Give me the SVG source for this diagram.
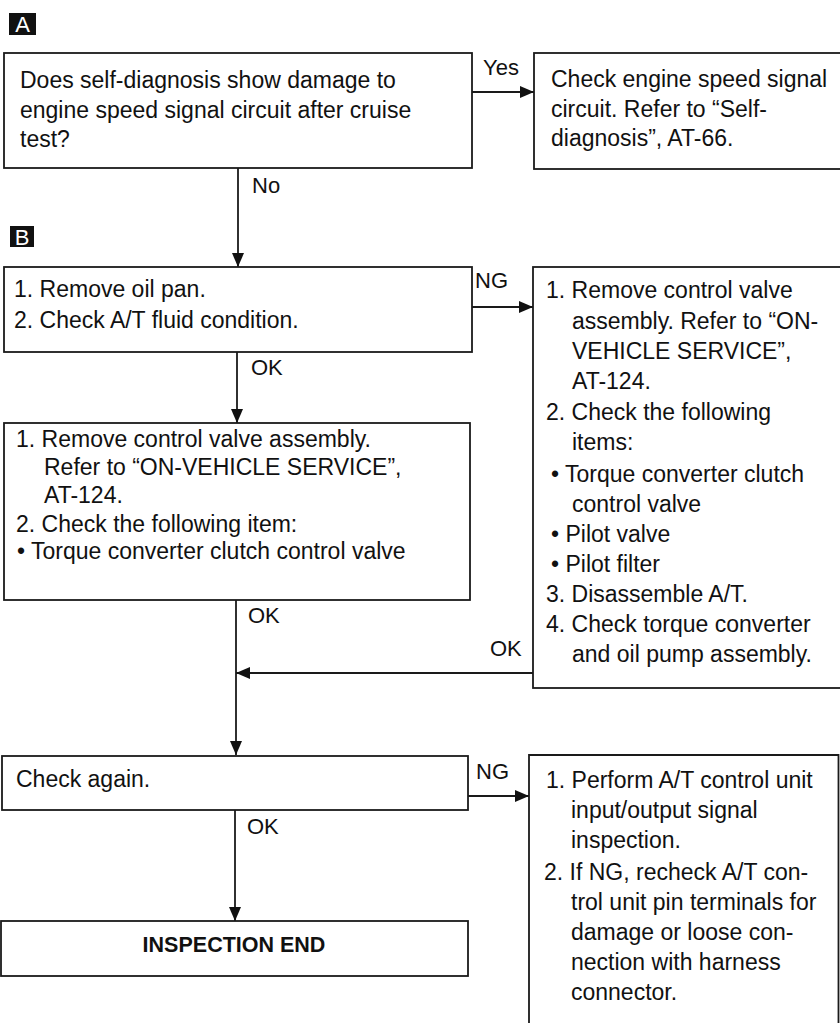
<svg xmlns="http://www.w3.org/2000/svg" width="840" height="1023" viewBox="0 0 840 1023">
<style>
.box{fill:#fff;stroke:#1a1a1a;stroke-width:1.8}
.t{font-family:"Liberation Sans",Arial,sans-serif;font-size:23px;fill:#111}
.lbl{font-family:"Liberation Sans",Arial,sans-serif;font-size:22px;fill:#111}
.b{font-family:"Liberation Sans",Arial,sans-serif;font-size:21.5px;font-weight:bold;fill:#111}
.tag{font-family:"Liberation Sans",Arial,sans-serif;font-size:22px;fill:#fff}
.c{fill:none;stroke:#1a1a1a;stroke-width:1.8}
</style>
<defs>
<marker id="ah" markerUnits="userSpaceOnUse" markerWidth="15" markerHeight="12" refX="14" refY="6" orient="auto">
<path d="M0,0 L14,6 L0,12 Z" fill="#111"/>
</marker>
</defs>
<rect width="840" height="1023" fill="#fff"/>

<g id="tagA"><rect x="9" y="13" width="27" height="22" fill="#111"/><text class="tag" x="22.5" y="32" text-anchor="middle">A</text></g>
<g id="tagB"><rect x="10" y="226" width="24" height="21" fill="#111"/><text class="tag" x="22" y="244.5" text-anchor="middle">B</text></g>

<g id="connectors">
<line class="c" x1="472" y1="92" x2="534" y2="92" marker-end="url(#ah)"/>
<line class="c" x1="238" y1="168" x2="238" y2="267" marker-end="url(#ah)"/>
<line class="c" x1="472" y1="307" x2="533" y2="307" marker-end="url(#ah)"/>
<line class="c" x1="237" y1="352" x2="237" y2="423" marker-end="url(#ah)"/>
<line class="c" x1="236" y1="600" x2="236" y2="755" marker-end="url(#ah)"/>
<line class="c" x1="533" y1="673" x2="236" y2="673" marker-end="url(#ah)"/>
<line class="c" x1="468" y1="796" x2="529" y2="796" marker-end="url(#ah)"/>
<line class="c" x1="235" y1="810" x2="235" y2="921" marker-end="url(#ah)"/>
<text class="lbl" x="483" y="75">Yes</text>
<text class="lbl" x="252" y="193">No</text>
<text class="lbl" x="475" y="288">NG</text>
<text class="lbl" x="251" y="375">OK</text>
<text class="lbl" x="248" y="623">OK</text>
<text class="lbl" x="490" y="656">OK</text>
<text class="lbl" x="476" y="779">NG</text>
<text class="lbl" x="247" y="834">OK</text>
</g>

<g id="q1">
<rect class="box" x="4" y="53" width="468" height="115"/>
<text class="t" x="20" y="88">Does self-diagnosis show damage to</text>
<text class="t" x="20" y="117.5">engine speed signal circuit after cruise</text>
<text class="t" x="20" y="147">test?</text>
</g>

<g id="yes1">
<rect class="box" x="534" y="53" width="310" height="116"/>
<text class="t" x="551" y="87">Check engine speed signal</text>
<text class="t" x="551" y="116.5">circuit. Refer to “Self-</text>
<text class="t" x="551" y="146">diagnosis”, AT-66.</text>
</g>

<g id="b1">
<rect class="box" x="4" y="267" width="468" height="85"/>
<text class="t" x="14" y="297">1. Remove oil pan.</text>
<text class="t" x="14" y="328">2. Check A/T fluid condition.</text>
</g>

<g id="ng1">
<rect class="box" x="533" y="267" width="310" height="421"/>
<text class="t" x="546" y="298">1. Remove control valve</text>
<text class="t" x="572" y="329">assembly. Refer to “ON-</text>
<text class="t" x="572" y="359">VEHICLE SERVICE”,</text>
<text class="t" x="572" y="389">AT-124.</text>
<text class="t" x="546" y="420">2. Check the following</text>
<text class="t" x="572" y="450">items:</text>
<text class="t" x="551" y="482">• Torque converter clutch</text>
<text class="t" x="572" y="512">control valve</text>
<text class="t" x="551" y="542">• Pilot valve</text>
<text class="t" x="551" y="572">• Pilot filter</text>
<text class="t" x="546" y="602">3. Disassemble A/T.</text>
<text class="t" x="546" y="632">4. Check torque converter</text>
<text class="t" x="572" y="662">and oil pump assembly.</text>
</g>

<g id="b2">
<rect class="box" x="4" y="423" width="466" height="177"/>
<text class="t" x="16" y="447">1. Remove control valve assembly.</text>
<text class="t" x="44" y="475">Refer to “ON-VEHICLE SERVICE”,</text>
<text class="t" x="44" y="503">AT-124.</text>
<text class="t" x="16" y="532">2. Check the following item:</text>
<text class="t" x="17" y="559">• Torque converter clutch control valve</text>
</g>

<g id="check">
<rect class="box" x="2" y="756" width="466" height="54"/>
<text class="t" x="16" y="787">Check again.</text>
</g>

<g id="ng2">
<path class="box" d="M529,1030 V755 H838.5 V1030"/>
<text class="t" x="546" y="788">1. Perform A/T control unit</text>
<text class="t" x="571" y="818">input/output signal</text>
<text class="t" x="571" y="848">inspection.</text>
<text class="t" x="544" y="880">2. If NG, recheck A/T con-</text>
<text class="t" x="571" y="910">trol unit pin terminals for</text>
<text class="t" x="571" y="940">damage or loose con-</text>
<text class="t" x="571" y="970">nection with harness</text>
<text class="t" x="571" y="1000">connector.</text>
</g>

<g id="end">
<rect class="box" x="1" y="921" width="467" height="55"/>
<text class="b" x="234" y="952" text-anchor="middle">INSPECTION END</text>
</g>
</svg>
